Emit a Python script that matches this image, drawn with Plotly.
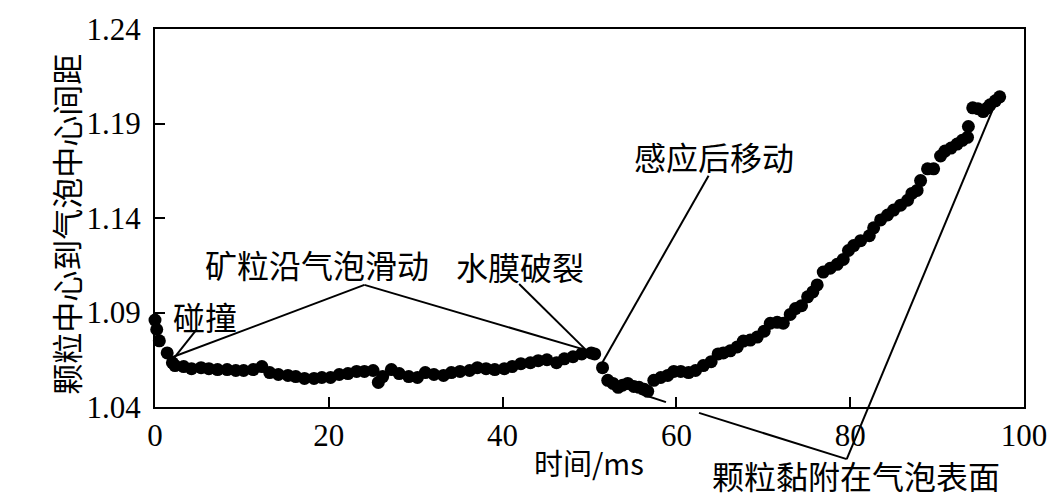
import plotly.graph_objects as go

# time (ms) and normalised particle-centre-to-bubble-centre distance
time_ms = [0, 0.2, 0.5, 1.4, 2.0, 2.3, 3.3, 4.2, 5.3, 6.2, 7.2, 8.3, 9.3, 10.2, 11.3, 12.3,
           13.2, 14.2, 15.3, 16.2, 17.2, 18.3, 19.2, 20.2, 21.2, 22.2, 23.2, 24.1, 25.1, 25.7,
           26.2, 27.2, 28.1, 29.2, 30.2, 31.1, 32.1, 33.2, 34.1, 35.1, 36.2, 37.1, 38.1, 39.1,
           40.2, 41.1, 42.1, 43.2, 44.1, 45.1, 46.2, 47.1, 48.1, 49.1, 50.2, 50.6, 51.5, 52.1,
           52.7, 53.3, 53.8, 54.4, 55.1, 55.7, 56.3, 56.7, 57.4, 58.2, 59.0, 59.7, 60.5, 61.4,
           62.2, 63.1, 64.0, 64.8, 65.4, 66.2, 67.0, 67.7, 68.5, 69.3, 70.1, 70.8, 71.6, 72.3,
           73.1, 73.7, 74.4, 75.1, 75.7, 76.2, 76.9, 77.7, 78.5, 79.2, 79.8, 80.4, 81.2, 82.2,
           82.7, 83.5, 84.3, 85.0, 85.8, 86.6, 87.1, 87.7, 88.1, 88.9, 89.6, 90.4, 90.9, 91.6,
           92.3, 92.9, 93.5, 93.6, 94.1, 94.7, 95.3, 95.8, 96.1, 96.7, 97.2]
distance = [1.086, 1.081, 1.075, 1.0686, 1.0634, 1.0619, 1.0614, 1.0603, 1.0608, 1.0603, 1.0598,
            1.0598, 1.0593, 1.0593, 1.0598, 1.0614, 1.0582, 1.0572, 1.0567, 1.0561, 1.0551,
            1.0551, 1.0556, 1.0556, 1.0572, 1.0577, 1.0588, 1.0588, 1.0593, 1.0530, 1.0561,
            1.0598, 1.0577, 1.0561, 1.0556, 1.0582, 1.0572, 1.0567, 1.0582, 1.0588, 1.0593,
            1.0608, 1.0603, 1.0598, 1.0603, 1.0614, 1.0629, 1.0634, 1.0645, 1.0650, 1.0634,
            1.0655, 1.0666, 1.0681, 1.0686, 1.0681, 1.0608, 1.0541, 1.0525, 1.0504, 1.0515,
            1.0525, 1.0509, 1.0504, 1.0494, 1.0483, 1.0541, 1.0556, 1.0567, 1.0588, 1.0588,
            1.0582, 1.0593, 1.0619, 1.0640, 1.0681, 1.0686, 1.0697, 1.0718, 1.0749, 1.0754,
            1.0770, 1.0801, 1.0843, 1.0848, 1.0843, 1.0890, 1.0921, 1.0936, 1.0983, 1.1009,
            1.1046, 1.1114, 1.1134, 1.1155, 1.1181, 1.1228, 1.1254, 1.1280, 1.1306, 1.1348,
            1.1390, 1.1416, 1.1442, 1.1468, 1.1494, 1.1530, 1.1546, 1.1598, 1.1660, 1.1660,
            1.1728, 1.1754, 1.1770, 1.1791, 1.1811, 1.1827, 1.1884, 1.1983, 1.1978, 1.1963,
            1.1983, 1.1999, 1.2020, 1.2041]

x_ticks = [0, 20, 40, 60, 80, 100]
y_ticks = [1.04, 1.09, 1.14, 1.19, 1.24]
y_tick_text = ["1.04", "1.09", "1.14", "1.19", "1.24"]

X_RANGE = [0, 100]
Y_RANGE = [1.04, 1.24]

# annotation labels: (text, x, y, font size) in data units
labels = [
    ("碰撞", 5.7, 1.0884, 32),
    ("矿粒沿气泡滑动", 18.6, 1.1155, 32),
    ("水膜破裂", 42.0, 1.1145, 32),
    ("感应后移动", 64.3, 1.1728, 32),
    ("时间/ms", 49.9, 1.0108, 29),
    ("颗粒黏附在气泡表面", 80.7, 1.0038, 32),
]
# leader lines: (x0, y0, x1, y1) in data units
leaders = [
    (4.8, 1.0811, 1.95, 1.0645),
    (24.1, 1.1046, 1.5, 1.0655),
    (24.1, 1.1046, 49.9, 1.0697),
    (41.9, 1.1051, 49.7, 1.0697),
    (63.7, 1.1624, 51.4, 1.0629),
    (55.7, 1.0473, 58.8, 1.0426),
    (62.6, 1.0369, 79.6, 1.0124),
    (79.6, 1.0124, 97.0, 1.2040),
]


def px(x):
    return (x - X_RANGE[0]) / (X_RANGE[1] - X_RANGE[0])


def py(y):
    return (y - Y_RANGE[0]) / (Y_RANGE[1] - Y_RANGE[0])


CJK = "Noto Sans CJK SC"
SERIF = "Liberation Serif"

fig = go.Figure()
fig.add_trace(go.Scatter(
    x=time_ms, y=distance, mode="markers",
    marker=dict(color="black", size=13, line=dict(width=0)),
    showlegend=False, cliponaxis=False,
))

for x0, y0, x1, y1 in leaders:
    fig.add_shape(type="line", xref="paper", yref="paper",
                  x0=px(x0), y0=py(y0), x1=px(x1), y1=py(y1),
                  line=dict(color="black", width=2), layer="above")

for text, x, y, size in labels:
    fig.add_annotation(text=text, x=px(x), y=py(y), xref="paper", yref="paper",
                       showarrow=False, xanchor="center", yanchor="middle", borderpad=0,
                       font=dict(family=CJK, size=size, color="black"))

fig.add_annotation(text="颗粒中心到气泡中心间距", xref="paper", yref="paper",
                   x=-0.132, y=0.484, textangle=-90, showarrow=False,
                   font=dict(family=CJK, size=31, color="black"))

fig.update_xaxes(range=X_RANGE, tickvals=x_ticks, ticks="inside", ticklen=10, tickwidth=2,
                 tickcolor="black", showline=True, linecolor="black", linewidth=2,
                 mirror=True, showgrid=False, zeroline=False,
                 tickfont=dict(family=SERIF, size=31, color="black"))
fig.update_yaxes(range=Y_RANGE, tickvals=y_ticks, ticktext=y_tick_text, ticks="inside",
                 ticklen=10, tickwidth=2, tickcolor="black", showline=True, linecolor="black",
                 linewidth=2, mirror=True, showgrid=False, zeroline=False,
                 ticklabelstandoff=6,
                 tickfont=dict(family=SERIF, size=31, color="black"))

fig.update_layout(width=1059, height=504, plot_bgcolor="white", paper_bgcolor="white",
                  margin=dict(l=155, r=33, t=23, b=97), showlegend=False)

fig.write_html("out.html")
